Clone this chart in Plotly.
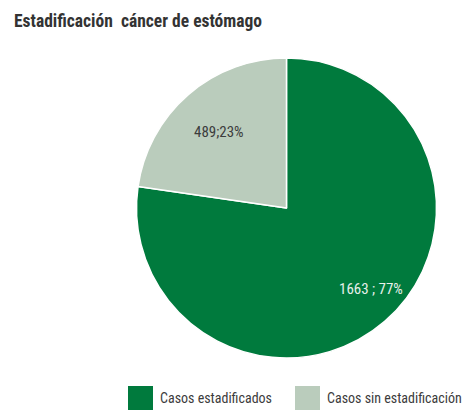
import numpy as np
import plotly.graph_objects as go

# Data
title = "Estadificación  cáncer de estómago"
categories = ["Casos estadificados", "Casos sin estadificación"]
cases = [1663, 489]
label_sep = [" ; ", ";"]
colors = ["#007A3D", "#BACCBC"]
label_colors = ["#E6F0EA", "#3C3C3C"]

W, H = 466, 410
FONT = "Liberation Sans Narrow, Roboto Condensed, Arial Narrow, Liberation Sans, sans-serif"

# pie placement (paper fractions)
dom_x = [136 / W, 437 / W]
dom_y = [1 - 358 / H, 1 - 58 / H]
radius_px = 150
label_radius = [0.78, 0.69]
label_shift = [(8, 7), (0, -2)]

fig = go.Figure(go.Pie(
    labels=categories,
    values=cases,
    sort=False,
    direction="clockwise",
    rotation=0,
    marker=dict(colors=colors, line=dict(color="white", width=1.5)),
    textinfo="none",
    hoverinfo="label+value+percent",
    showlegend=False,
    domain=dict(x=dom_x, y=dom_y),
))

# slice labels placed along each slice bisector
values = np.array(cases, dtype=float)
shares = values / values.sum()
ends = np.cumsum(shares)
mids = ends - shares / 2
cx, cy = np.mean(dom_x), np.mean(dom_y)
annotations = []
for v, s, m, sep, col, rf, sh in zip(cases, shares, mids, label_sep, label_colors,
                                     label_radius, label_shift):
    theta = 2 * np.pi * m
    ax = cx + rf * radius_px * np.sin(theta) / W
    ay = cy + rf * radius_px * np.cos(theta) / H
    annotations.append(dict(
        x=ax, y=ay, xref="paper", yref="paper", showarrow=False,
        text=f"{v}{sep}{round(s * 100)}%",
        font=dict(family=FONT, size=15, color=col),
        xanchor="center", yanchor="middle", xshift=sh[0], yshift=sh[1],
    ))

# title
annotations.append(dict(
    x=12 / W, y=1 - 21 / H, xref="paper", yref="paper", showarrow=False,
    text=f"<b>{title}</b>", xanchor="left", yanchor="middle",
    font=dict(family=FONT, size=17.5, color="#333333"),
))

# legend drawn as swatches + labels
shapes = []
legend_x = [128, 295]
for name, col, lx in zip(categories, colors, legend_x):
    shapes.append(dict(
        type="rect", xref="paper", yref="paper",
        x0=lx / W, x1=(lx + 25) / W, y0=1 - 410 / H, y1=1 - 386 / H,
        fillcolor=col, line=dict(width=0),
    ))
    annotations.append(dict(
        x=(lx + 30) / W, y=1 - 398 / H, xref="paper", yref="paper", showarrow=False,
        text=name, xanchor="left", yanchor="middle",
        font=dict(family=FONT, size=14, color="#3C3C3C"),
    ))

fig.update_layout(
    width=W, height=H,
    margin=dict(l=0, r=0, t=0, b=0),
    paper_bgcolor="white",
    plot_bgcolor="white",
    annotations=annotations,
    shapes=shapes,
)

fig.write_html("out.html")
